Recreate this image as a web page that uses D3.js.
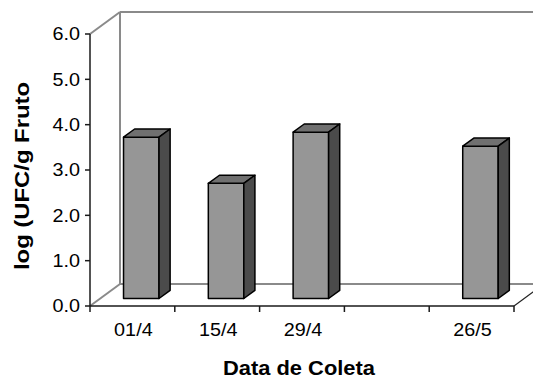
<!DOCTYPE html>
<html>
<head>
<meta charset="utf-8">
<script src="https://cdn.jsdelivr.net/npm/d3@7"></script>
<style>
  html, body { margin: 0; padding: 0; background: #fff; }
  svg { display: block; }
  text { font-family: "Liberation Sans", Arial, Helvetica, sans-serif; fill: #000; }
</style>
</head>
<body>
<svg id="chart" width="533" height="379"></svg>
<script>
// Sampling dates and log counts
const categories = ["01/4", "15/4", "29/4", "", "26/5"];
const values = [3.56, 2.54, 3.67, null, 3.36];
const yTicks = [0, 1, 2, 3, 4, 5, 6];
const yTitle = "log (UFC/g Fruto";
const xTitle = "Data de Coleta";

const svg = d3.select("#chart");

// front plane of the 3D box
const plotLeft = 90, plotRight = 514, plotBottom = 306, plotTop = 34;
// depth projection of the box (back plane offset)
const DX = 30, DY = -22;
// bar placement in depth (fractions of full depth)
const f0 = 0.34, f1 = 0.71;

const x = d3.scaleBand().domain(d3.range(categories.length)).range([plotLeft, plotRight]).paddingInner(0).paddingOuter(0);
const y = d3.scaleLinear().domain([0, 6]).range([plotBottom, plotTop]);

const gray = "#8a8a8a";

// back wall and floor edges
const back = svg.append("g").attr("fill", "none").attr("stroke", gray).attr("stroke-width", 2);
back.append("line").attr("x1", plotLeft + DX).attr("y1", y(0) + DY).attr("x2", plotLeft + DX).attr("y2", y(6) + DY);
back.append("line").attr("x1", plotLeft + DX).attr("y1", y(6) + DY).attr("x2", plotRight + DX).attr("y2", y(6) + DY);
back.append("line").attr("x1", plotLeft + DX).attr("y1", y(0) + DY).attr("x2", plotRight + DX).attr("y2", y(0) + DY);
back.append("line").attr("x1", plotLeft).attr("y1", y(6)).attr("x2", plotLeft + DX).attr("y2", y(6) + DY);
back.append("line").attr("x1", plotLeft).attr("y1", y(0)).attr("x2", plotLeft + DX).attr("y2", y(0) + DY);

// right floor edge
svg.append("line").attr("x1", plotRight).attr("y1", y(0)).attr("x2", plotRight + DX).attr("y2", y(0) + DY)
  .attr("stroke", "#222").attr("stroke-width", 1.2);

// bars
const bw = 35.5;
const dX = (f1 - f0) * DX, dY = (f1 - f0) * DY;
const bars = svg.append("g").attr("stroke", "#000").attr("stroke-width", 1.5).attr("stroke-linejoin", "round");
values.forEach((v, i) => {
  if (v == null) return;
  const X = x(i) + 0.275 * x.step() + f0 * DX;
  const yT = y(v) + f0 * DY;
  const yB = y(0) + f0 * DY;
  const g = bars.append("g");
  g.append("rect").attr("x", X).attr("y", yT).attr("width", bw).attr("height", yB - yT).attr("fill", "#969696");
  g.append("polygon").attr("fill", "#707070")
    .attr("points", [[X, yT], [X + bw, yT], [X + bw + dX, yT + dY], [X + dX, yT + dY]].join(" "));
  g.append("polygon").attr("fill", "#4b4b4b")
    .attr("points", [[X + bw, yT], [X + bw + dX, yT + dY], [X + bw + dX, yB + dY], [X + bw, yB]].join(" "));
});

// front axes
const axisColor = "#1a1a1a";
svg.append("line").attr("x1", plotLeft).attr("y1", y(0)).attr("x2", plotLeft).attr("y2", y(6))
  .attr("stroke", axisColor).attr("stroke-width", 1.5);
svg.append("line").attr("x1", plotLeft).attr("y1", y(0)).attr("x2", plotRight).attr("y2", y(0))
  .attr("stroke", axisColor).attr("stroke-width", 1.5);

// y ticks and labels
const yAxis = svg.append("g").attr("class", "tick-labels");
yTicks.forEach(t => {
  yAxis.append("line").attr("x1", plotLeft - 5).attr("x2", plotLeft).attr("y1", y(t)).attr("y2", y(t))
    .attr("stroke", axisColor).attr("stroke-width", 1.5);
  yAxis.append("text").attr("x", plotLeft - 10).attr("y", y(t) + 6.4)
    .attr("text-anchor", "end").attr("font-size", 18).text(d3.format(".1f")(t));
});

// x ticks at category boundaries and labels
const xAxis = svg.append("g").attr("class", "tick-labels");
d3.range(categories.length + 1).forEach(i => {
  const xp = plotLeft + i * x.step();
  xAxis.append("line").attr("x1", xp).attr("x2", xp).attr("y1", y(0)).attr("y2", y(0) + 6)
    .attr("stroke", axisColor).attr("stroke-width", 1.5);
});
categories.forEach((c, i) => {
  xAxis.append("text").attr("x", x(i) + x.step() / 2 + 1).attr("y", 336)
    .attr("text-anchor", "middle").attr("font-size", 18).text(c);
});

// stretch tick labels slightly wider
svg.selectAll("g.tick-labels text").each(function () {
  const len = this.getComputedTextLength();
  if (len > 0) d3.select(this).attr("textLength", len * 1.1).attr("lengthAdjust", "spacingAndGlyphs");
});

// axis titles
svg.append("text").attr("x", 299).attr("y", 375).attr("text-anchor", "middle")
  .attr("font-size", 20).attr("font-weight", "bold")
  .attr("textLength", 152).attr("lengthAdjust", "spacingAndGlyphs").text(xTitle);
svg.append("text").attr("transform", "translate(29,176) rotate(-90)").attr("text-anchor", "middle")
  .attr("font-size", 19.5).attr("font-weight", "bold")
  .attr("textLength", 188).attr("lengthAdjust", "spacingAndGlyphs").text(yTitle);
</script>
</body>
</html>
